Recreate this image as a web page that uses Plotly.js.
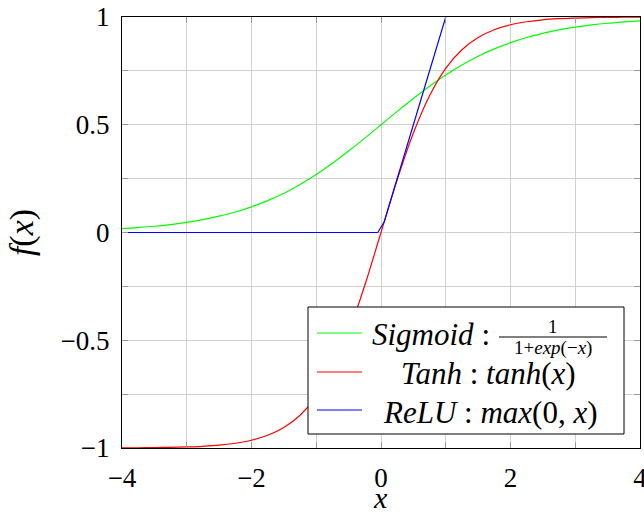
<!DOCTYPE html>
<html>
<head>
<meta charset="utf-8">
<script src="https://cdn.plot.ly/plotly-3.0.1.min.js"></script>
<style>html,body{margin:0;padding:0;background:#fff;}#chart{width:644px;height:515px;}</style>
</head>
<body>
<div id="chart"></div>
<script>
// x samples for the smooth curves
var xSmooth = [-4,-3.75,-3.5,-3.25,-3,-2.75,-2.5,-2.25,-2,-1.75,-1.5,-1.25,-1,-0.75,-0.5,-0.25,0,
               0.25,0.5,0.75,1,1.25,1.5,1.75,2,2.25,2.5,2.75,3,3.25,3.5,3.75,4];
// Sigmoid values
var sigmoidY = [0.018,0.023,0.029,0.037,0.047,0.060,0.076,0.095,0.119,0.148,0.182,0.223,0.269,0.321,0.378,0.438,0.5,
                0.562,0.622,0.679,0.731,0.777,0.818,0.852,0.881,0.905,0.924,0.940,0.953,0.963,0.971,0.977,0.982];
// Tanh values
var tanhY = [-0.999,-0.999,-0.998,-0.997,-0.995,-0.992,-0.987,-0.978,-0.964,-0.941,-0.905,-0.848,-0.762,-0.635,-0.462,-0.245,0,
             0.245,0.462,0.635,0.762,0.848,0.905,0.941,0.964,0.978,0.987,0.992,0.995,0.997,0.998,0.999,0.999];
// ReLU samples
var reluX = [-4,-0.05,0.05,1,4];
var reluY = [0,0,0.05,1,4];

var xTicks = [-4,-2,0,2,4];
var yTicks = [-1,-0.5,0,0.5,1];
var legendNames = ['Sigmoid','Tanh','ReLU'];

var FONT = '"Liberation Serif", "Times New Roman", serif';

var traces = [
  {x: xSmooth, y: sigmoidY, type: 'scatter', mode: 'lines', name: legendNames[0],
   line: {color: '#00ff00', width: 1.2, shape: 'spline'}},
  {x: xSmooth, y: tanhY, type: 'scatter', mode: 'lines', name: legendNames[1],
   line: {color: '#ff0000', width: 1.2, shape: 'spline'}},
  {x: reluX, y: reluY, type: 'scatter', mode: 'lines', name: legendNames[2],
   line: {color: '#0000ff', width: 1.2}}
];

function px2x(p){ return (p-122)/518; }
function py2y(p){ return (448-p)/431; }

var shapes = [
  {type:'rect', xref:'paper', yref:'paper', x0:px2x(308), x1:px2x(624), y0:py2y(434), y1:py2y(307),
   line:{color:'#000', width:1}, fillcolor:'#fff', layer:'above'},
  {type:'line', xref:'paper', yref:'paper', x0:px2x(317), x1:px2x(362), y0:py2y(333), y1:py2y(333),
   line:{color:'#00ff00', width:1.2}},
  {type:'line', xref:'paper', yref:'paper', x0:px2x(317), x1:px2x(362), y0:py2y(372), y1:py2y(372),
   line:{color:'#ff0000', width:1.2}},
  {type:'line', xref:'paper', yref:'paper', x0:px2x(317), x1:px2x(362), y0:py2y(410), y1:py2y(410),
   line:{color:'#0000ff', width:1.2}},
  // fraction bar
  {type:'line', xref:'paper', yref:'paper', x0:px2x(499), x1:px2x(607), y0:py2y(337), y1:py2y(337),
   line:{color:'#000', width:1}}
];

var aFont = {family: FONT, size: 31, color: '#000'};
var fFont = {family: FONT, size: 19, color: '#000'};
var annotations = [
  {xref:'paper', yref:'paper', x:px2x(492), y:py2y(334), xanchor:'right', yanchor:'middle', showarrow:false,
   text:'<i>' + legendNames[0] + '</i> :', font:aFont},
  {xref:'paper', yref:'paper', x:px2x(553), y:py2y(326), xanchor:'center', yanchor:'middle', showarrow:false,
   text:'1', font:fFont},
  {xref:'paper', yref:'paper', x:px2x(553), y:py2y(348), xanchor:'center', yanchor:'middle', showarrow:false,
   text:'1+<i>exp</i>(−<i>x</i>)', font:fFont},
  {xref:'paper', yref:'paper', x:px2x(488), y:py2y(373), xanchor:'center', yanchor:'middle', showarrow:false,
   text:'<i>' + legendNames[1] + '</i> : <i>tanh</i>(<i>x</i>)', font:aFont},
  {xref:'paper', yref:'paper', x:px2x(490), y:py2y(412), xanchor:'center', yanchor:'middle', showarrow:false,
   text:'<i>' + legendNames[2] + '</i> : <i>max</i>(0, <i>x</i>)', font:aFont},
  // x axis title
  {xref:'paper', yref:'paper', x:px2x(380), y:py2y(497), xanchor:'center', yanchor:'middle', showarrow:false,
   text:'<i>x</i>', font:{family: FONT, size: 30, color: '#000'}}
];

var axisCommon = {
  showline: true, linecolor: '#000', linewidth: 1, mirror: 'allticks',
  ticks: 'inside', ticklen: 6, tickcolor: '#999', tickwidth: 1,
  showgrid: true, gridcolor: '#d0d0d0', gridwidth: 1, zeroline: false,
  ticklabeloverflow: 'allow',
  tickfont: {family: FONT, size: 27, color: '#000'}
};

var layout = {
  width: 644, height: 515,
  margin: {l: 122, r: 4, t: 17, b: 67},
  paper_bgcolor: '#fff', plot_bgcolor: '#fff',
  showlegend: false,
  font: {family: FONT, color: '#000'},
  xaxis: Object.assign({}, axisCommon, {
    range: [-4, 4], tickvals: xTicks, ticklabelstandoff: 6,
    minor: {dtick: 1, showgrid: true, gridcolor: '#d0d0d0', ticks: 'inside', ticklen: 6, tickcolor: '#999'}
  }),
  yaxis: Object.assign({}, axisCommon, {
    range: [-1, 1], tickvals: yTicks, ticklabelstandoff: 6,
    minor: {dtick: 0.25, showgrid: true, gridcolor: '#d0d0d0', ticks: 'inside', ticklen: 6, tickcolor: '#999'},
    title: {text: '<i>f</i>(<i>x</i>)', font: {family: FONT, size: 34, color: '#000'}, standoff: 16}
  }),
  shapes: shapes,
  annotations: annotations
};

Plotly.newPlot('chart', traces, layout, {displayModeBar: false, staticPlot: true});
</script>
</body>
</html>
